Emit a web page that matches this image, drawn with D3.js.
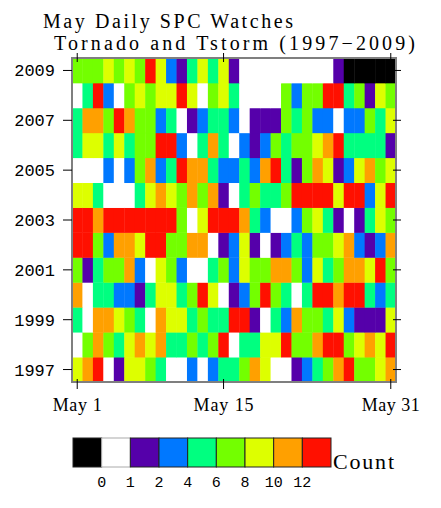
<!DOCTYPE html>
<html><head><meta charset="utf-8">
<script src="https://cdn.jsdelivr.net/npm/d3@7"></script>
<style>body{margin:0;background:#fff}svg{display:block}text{font-family:"Liberation Mono","DejaVu Sans Mono",monospace;fill:#000}text.serif{font-family:"Liberation Serif","DejaVu Serif",serif}</style>
</head><body><svg id="c" width="441" height="508"></svg>
<script>
// Daily watch counts in May (-1 = no data)
const days = d3.range(1, 32);
const years = [1997,1998,1999,2000,2001,2002,2003,2004,2005,2006,2007,2008,2009];
const y1997 = [9,11,13,0,1,9,9,7,5,0,0,3,0,3,5,5,7,11,9,0,0,1,3,5,7,11,13,7,7,9,11];
const y1998 = [0,7,11,7,5,9,11,9,11,5,5,7,5,7,13,0,5,5,9,9,13,7,7,11,13,13,7,9,11,9,13];
const y1999 = [5,0,11,11,9,7,5,0,11,9,9,5,7,5,5,13,13,1,0,5,3,11,7,7,5,9,3,1,1,1,9];
const y2000 = [11,0,5,5,3,3,1,5,9,9,5,7,13,9,0,1,3,7,13,7,5,0,5,13,13,11,13,13,5,3,5];
const y2001 = [7,1,5,7,7,11,3,0,9,7,3,0,0,5,7,3,9,7,7,11,11,7,3,9,5,7,11,11,9,13,7];
const y2002 = [13,13,7,3,11,11,9,13,13,7,7,11,11,0,1,3,9,1,0,1,3,5,3,7,7,9,11,3,1,3,11];
const y2003 = [13,13,11,13,13,13,13,13,13,13,7,0,9,13,13,13,11,5,3,0,0,3,7,9,5,1,0,1,5,9,7];
const y2004 = [9,9,5,0,0,0,5,9,11,9,7,11,7,11,1,0,5,7,5,5,7,13,13,13,13,9,13,13,3,9,13];
const y2005 = [0,0,0,3,0,3,7,11,3,5,13,11,11,5,3,3,5,3,11,13,5,1,7,11,9,1,3,9,11,7,9];
const y2006 = [5,9,9,5,9,5,7,7,13,13,3,0,5,11,5,0,3,1,3,7,5,7,7,9,11,13,5,5,5,5,1];
const y2007 = [5,11,11,7,13,11,7,7,3,5,0,1,3,5,5,3,0,1,1,1,7,5,7,3,3,0,3,3,7,5,9];
const y2008 = [0,5,13,3,0,7,9,7,9,9,13,9,0,7,9,5,0,0,0,0,7,3,7,7,13,13,5,7,1,9,7];
const y2009 = [7,7,7,9,7,9,7,13,9,3,1,5,9,5,9,1,0,0,0,0,0,0,0,0,0,1,-1,-1,-1,-1,-1];
const rows = [y1997,y1998,y1999,y2000,y2001,y2002,y2003,y2004,y2005,y2006,y2007,y2008,y2009];
const levels = [0,1,2,4,6,8,10,12];
const colors = ["#000000","#ffffff","#5500aa","#0078ff","#00ff80","#73ff00","#ddff00","#ffa000","#ff1000"];
const yearTicks = [1997,1999,2001,2003,2005,2007,2009];
const dayTicks = [1,15,31];
const dayLabels = ["May 1","May 15","May 31"];
const title1 = "May Daily SPC Watches";
const title2 = "Tornado and Tstorm (1997\u22122009)";

const svg = d3.select("#c");
const L=72,R=396,T=58,B=382;
const x = d3.scaleBand().domain(days).range([L,R]);
const y = d3.scaleBand().domain(years.slice().reverse()).range([T,B]);
const col = d3.scaleThreshold().domain(levels).range(colors);

const cells = [];
years.forEach((yr,i)=>rows[i].forEach((v,j)=>cells.push({yr,day:days[j],v})));
svg.append("g").selectAll("rect").data(cells).join("rect")
  .attr("x",d=>x(d.day)).attr("y",d=>y(d.yr))
  .attr("width",x.bandwidth()+0.4).attr("height",y.bandwidth()+0.4)
  .attr("fill",d=>col(d.v));

svg.append("rect").attr("x",L).attr("y",T).attr("width",R-L).attr("height",B-T)
  .attr("fill","none").attr("stroke","#7f7f7f").attr("stroke-width",2);

const yc = d=>y(d)+y.bandwidth()/2, xc = d=>x(d)+x.bandwidth()/2;
const tk = svg.append("g").attr("stroke","#000").attr("stroke-width",1);
yearTicks.forEach(t=>{
  tk.append("line").attr("x1",L-9).attr("x2",L).attr("y1",yc(t)).attr("y2",yc(t));
  tk.append("line").attr("x1",R-3).attr("x2",R+5).attr("y1",yc(t)).attr("y2",yc(t));
});
dayTicks.forEach(t=>{
  tk.append("line").attr("y1",T-5).attr("y2",T+4).attr("x1",xc(t)).attr("x2",xc(t));
  tk.append("line").attr("y1",B-3).attr("y2",B+7).attr("x1",xc(t)).attr("x2",xc(t));
});
svg.append("g").selectAll("text").data(yearTicks).join("text")
  .attr("x",55).attr("y",d=>yc(d)+6).attr("text-anchor","end").attr("font-size",17).text(d=>d);
const dlw = [49,60,58];
svg.append("g").selectAll("text").data(dayTicks).join("text").attr("class","serif")
  .attr("x",(d,i)=>xc(d)-dlw[i]/2).attr("y",411).attr("font-size",18)
  .attr("textLength",(d,i)=>dlw[i]).attr("lengthAdjust","spacing").text((d,i)=>dayLabels[i]);

svg.append("text").attr("class","serif").attr("x",43).attr("y",28).attr("font-size",20)
  .attr("textLength",250).attr("lengthAdjust","spacing").text(title1);
svg.append("text").attr("class","serif").attr("x",54).attr("y",50).attr("font-size",20)
  .attr("textLength",361).attr("lengthAdjust","spacing").text(title2);

// legend
const lx = d3.scaleBand().domain(d3.range(colors.length)).range([73,331]);
const lg = svg.append("g");
lg.selectAll("rect").data(colors).join("rect")
  .attr("x",(d,i)=>lx(i)).attr("y",438).attr("width",lx.bandwidth()).attr("height",29)
  .attr("fill",d=>d).attr("stroke",(d,i)=>i===1?"#aaa":"#222").attr("stroke-width",1);
lg.selectAll("text").data(levels).join("text")
  .attr("x",(d,i)=>lx(i+1)).attr("y",487).attr("text-anchor","middle").attr("font-size",15).text(d=>d);
svg.append("text").attr("class","serif").attr("x",333).attr("y",469).attr("font-size",22)
  .attr("textLength",61).attr("lengthAdjust","spacing").text("Count");
</script></body></html>
